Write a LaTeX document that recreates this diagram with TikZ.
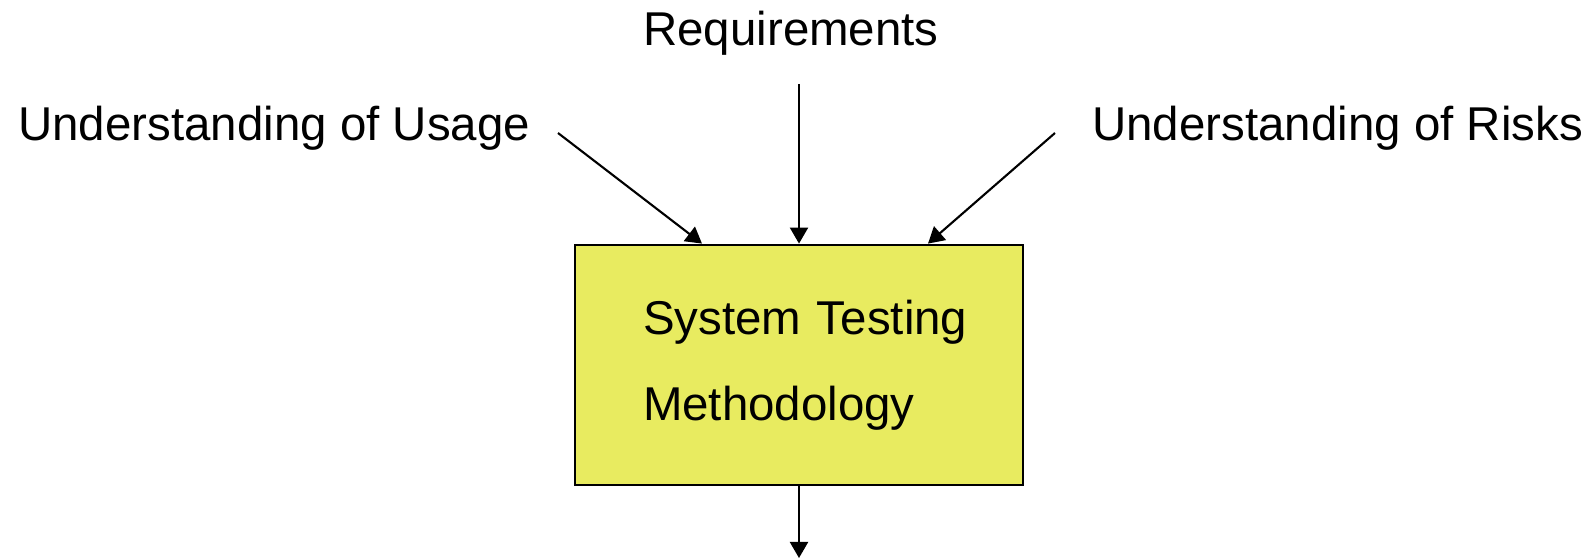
\documentclass[tikz,border=0pt]{standalone}
\usepackage{fontspec}
\setmainfont{Liberation Sans}
\usetikzlibrary{arrows.meta}

\definecolor{boxyellow}{RGB}{232,235,96}

\tikzset{
    lbl/.style={inner sep=0pt, font=\fontsize{27}{32}\selectfont},
    procbox/.style={rectangle, draw=black, line width=1.6pt, fill=boxyellow,
        minimum width=8.96cm, minimum height=4.8cm, text width=6.24cm, align=left,
        font=\fontsize{27}{48.8}\selectfont},
    flow/.style={line width=1.2pt, -{Triangle[length=0.32cm,width=0.36cm]}}
}

\begin{document}
\begin{tikzpicture}
    \useasboundingbox (0,0) rectangle (31.86,11.2);

    \node[procbox] (box) at (15.98,3.9) {\mbox{System Testing}\\Methodology};

    \node[lbl] (req) at (15.82,10.54) {Requirements};
    \node[lbl, anchor=west] (usage) at (0.36,8.64) {Understanding of Usage};
    \node[lbl, anchor=west] (risks) at (21.84,8.64) {Understanding of Risks};

    \coordinate (reqout) at (15.98,9.52);
    \coordinate (usageout) at (11.16,8.54);
    \coordinate (risksout) at (21.1,8.54);
    \coordinate (usagein) at ([xshift=-1.94cm]box.north);
    \coordinate (risksin) at ([xshift=2.58cm]box.north);
    \coordinate (result) at (15.98,0.04);

    \draw[flow] (reqout) -- (box.north);
    \draw[flow] (usageout) -- (usagein);
    \draw[flow] (risksout) -- (risksin);
    \draw[flow] (box.south) -- (result);
\end{tikzpicture}
\end{document}
